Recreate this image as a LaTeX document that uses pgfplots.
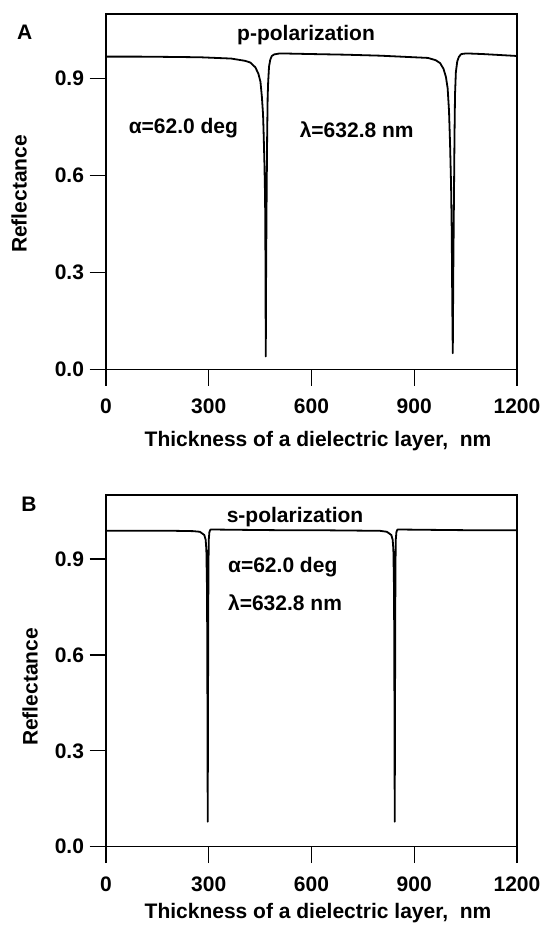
\documentclass[border=0pt]{standalone}
\usepackage{fontspec}
\setmainfont{Liberation Sans}
\usepackage{pgfplots}
\pgfplotsset{compat=1.18}
\newcommand\ff{\fontsize{21pt}{25pt}\selectfont\bfseries}
\pgfplotsset{
  refl/.style={
    scale only axis, width=411pt,
    xmin=0, xmax=1200, ymin=0, ymax=1.1,
    xtick={0,300,600,900,1200}, ytick={0,0.3,0.6,0.9},
    tick pos=left, tick align=outside,
    major tick length=16.5pt,
    every tick/.style={black, line width=1.4pt},
    axis line style={line width=1.4pt},
    scaled ticks=false,
    tick label style={font=\ff},
    xticklabel style={/tikz/yshift=-10pt},
    yticklabel style={/tikz/xshift=-2pt},
    x tick label style={/pgf/number format/.cd, fixed, precision=0, 1000 sep={}, assume math mode=true},
    y tick label style={/pgf/number format/.cd, fixed, fixed zerofill, precision=1, assume math mode=true},
    clip=true,
  },
  curve/.style={black, line width=1.8pt, no marks, line join=round},
}
\begin{document}
\begin{tikzpicture}
\useasboundingbox (0,0) rectangle (543pt,-925pt);
% ---------------- Panel A ----------------
\begin{axis}[refl, height=355.3pt, at={(106pt,-369.3pt)}, anchor=south west]
\addplot[curve] coordinates {
(0,0.968) (100,0.968) (200,0.967) (276,0.966) (366,0.962) (406,0.955)
(421,0.950) (436,0.935) (445,0.915) (451,0.89) (455,0.845) (458.5,0.79)
(460,0.74) (462.5,0.64) (464.5,0.53) (465.5,0.35) (466.5,0.04)
(467.5,0.30) (469,0.534) (470.5,0.72) (472,0.844) (473.5,0.89)
(476,0.937) (479.5,0.958) (484,0.970) (491.5,0.975) (508,0.978)
(600,0.976) (700,0.974) (800,0.971) (880,0.967) (940,0.964)
(962.5,0.957) (975.5,0.948) (985.5,0.93) (992.5,0.905) (997.5,0.87)
(1001.5,0.80) (1004.5,0.70) (1007.5,0.57) (1009.5,0.42) (1011,0.2)
(1012.5,0.05) (1014,0.3) (1016,0.54) (1017.5,0.72) (1019,0.85)
(1021.5,0.92) (1025.5,0.953) (1030.5,0.968) (1037.5,0.976) (1052.5,0.978)
(1100,0.976) (1150,0.973) (1200,0.970)
};
\node[font=\ff] at (axis cs:584,1.036) {p-polarization};
\node[font=\ff] at (axis cs:226,0.746) {α=62.0 deg};
\node[font=\ff] at (axis cs:732,0.743) {λ=632.8 nm};
\end{axis}
\node[font=\ff] at (24.7pt,-32pt) {A};
\node[font=\ff, rotate=90] at (19pt,-194pt) {Reflectance};
\node[font=\ff] at (318pt,-441pt) {Thickness of a dielectric layer,\ \ nm};
% ---------------- Panel B ----------------
\begin{axis}[refl, height=351.7pt, at={(106pt,-846.7pt)}, anchor=south west]
\addplot[curve] coordinates {
(0,0.988) (100,0.988) (200,0.988) (254,0.987) (274,0.985) (287,0.975)
(291,0.96) (293,0.93) (295,0.80) (296,0.5) (297,0.078) (298,0.5)
(299,0.85) (300,0.96) (302,0.985) (305,0.992) (317,0.992)
(400,0.991) (500,0.990) (600,0.990) (700,0.989) (800,0.988)
(820,0.985) (833,0.975) (837,0.96) (839,0.93) (841,0.80) (842,0.5)
(843,0.078) (844,0.5) (845,0.85) (846,0.96) (848,0.985) (851,0.992)
(863,0.992) (950,0.991) (1050,0.990) (1200,0.990)
};
\node[font=\ff] at (axis cs:552,1.031) {s-polarization};
\node[font=\ff, anchor=west, inner sep=0pt] at (axis cs:356,0.875) {α=62.0 deg};
\node[font=\ff, anchor=west, inner sep=0pt] at (axis cs:356,0.763) {λ=632.8 nm};
\end{axis}
\node[font=\ff] at (29pt,-504pt) {B};
\node[font=\ff, rotate=90] at (30pt,-687pt) {Reflectance};
\node[font=\ff] at (318pt,-913pt) {Thickness of a dielectric layer,\ \ nm};
\end{tikzpicture}
\end{document}
